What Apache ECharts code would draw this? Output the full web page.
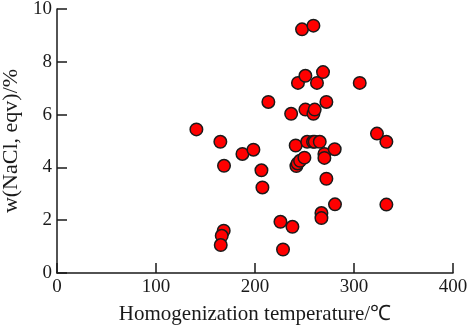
<!DOCTYPE html>
<html>
<head>
<meta charset="utf-8">
<script src="https://cdn.jsdelivr.net/npm/echarts@6/dist/echarts.min.js"></script>
<style>
  html, body { margin: 0; padding: 0; background: #fff; }
  #chart { width: 470px; height: 333px; }
</style>
</head>
<body>
<div id="chart"></div>
<script>
// homogenization temperature (°C) and salinity w(NaCl, eqv) (%)
const temps = [
  140.8, 165, 168.7, 168.4, 166.4, 165.4, 187.3, 198.4, 206.5, 207.5,
  213.5, 225.7, 228.3, 236.5, 237.8, 241.1, 241.8, 243, 245.5, 249.9,
  243.4, 247.5, 250.9, 250.9, 252.7, 258.6, 260.3, 265.4, 259, 260.3,
  259, 262.6, 268.7, 272.1, 270.1, 270.1, 272.1, 280.5, 280.8, 267.1,
  267.1, 305.8, 323.2, 332.7, 332.7
];
const salinity = [
  5.44, 4.97, 4.06, 1.60, 1.41, 1.06, 4.51, 4.67, 3.89, 3.24,
  6.48, 1.94, 0.89, 6.03, 1.75, 4.83, 4.05, 4.15, 4.25, 4.37,
  7.20, 9.23, 7.47, 6.19, 4.97, 4.97, 4.97, 4.97, 6.03, 6.19,
  9.37, 7.20, 7.61, 6.48, 4.51, 4.36, 3.57, 4.69, 2.60, 2.27,
  2.08, 7.20, 5.28, 4.97, 2.59
];
const xTicks = [0, 100, 200, 300, 400];
const yTicks = [0, 2, 4, 6, 8, 10];

const points = temps.map((t, i) => [t, salinity[i]]);
const font = 'Liberation Serif';
const ink = '#1a1a1a';

const chart = echarts.init(document.getElementById('chart'));
chart.setOption({
  animation: false,
  grid: { left: 57, right: 17, top: 9, bottom: 60, outerBoundsMode: 'none', containLabel: false },
  xAxis: {
    type: 'value',
    min: xTicks[0],
    max: xTicks[xTicks.length - 1],
    interval: 100,
    name: 'Homogenization temperature/℃',
    nameLocation: 'middle',
    nameGap: 31,
    nameTextStyle: { fontFamily: font, fontSize: 21, color: ink },
    axisLine: { lineStyle: { color: ink, width: 1.5 } },
    axisTick: { inside: true, length: 10, lineStyle: { color: ink, width: 1.5 } },
    axisLabel: { fontFamily: font, fontSize: 19, color: ink, margin: 5 },
    splitLine: { show: false }
  },
  yAxis: {
    type: 'value',
    min: yTicks[0],
    max: yTicks[yTicks.length - 1],
    interval: 2,
    name: 'w(NaCl, eqv)/%',
    nameLocation: 'middle',
    nameGap: 31,
    nameTextStyle: { fontFamily: font, fontSize: 22, color: ink },
    axisLine: { show: true, lineStyle: { color: ink, width: 1.5 } },
    axisTick: { show: true, inside: true, length: 10, lineStyle: { color: ink, width: 1.5 } },
    axisLabel: { fontFamily: font, fontSize: 19, color: ink, margin: 5 },
    splitLine: { show: false }
  },
  series: [{
    type: 'scatter',
    data: points,
    symbolSize: 12.5,
    itemStyle: { color: '#ff0000', borderColor: ink, borderWidth: 1.5, opacity: 1 }
  }]
});
</script>
</body>
</html>
